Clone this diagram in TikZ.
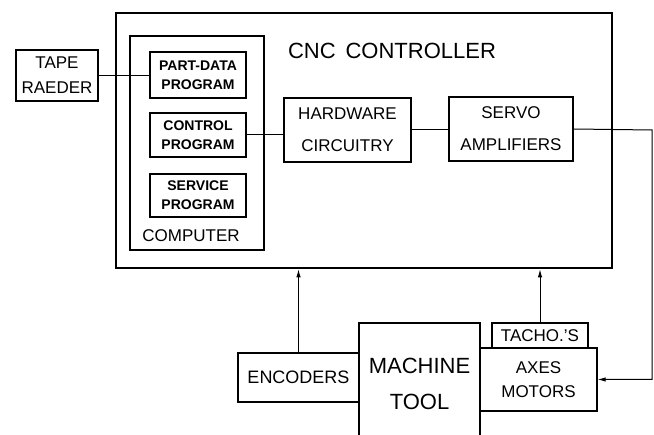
\documentclass[tikz,border=0pt]{standalone}
\usepackage{fontspec}
\setmainfont{Liberation Sans}
\usepackage{tikz}
\usetikzlibrary{arrows.meta}

\begin{document}
\begin{tikzpicture}[x=1pt, y=-1pt,
        blk/.style={draw, line width=1.2pt, inner sep=0pt, align=center,
                    font=\fontsize{17}{25}\selectfont},
        prog/.style={draw, line width=1.2pt, inner sep=0pt, align=center,
                    minimum width=96pt, font=\bfseries\fontsize{14}{19}\selectfont},
        link/.style={line width=1pt},
        feed/.style={line width=1pt, -{Latex[length=8pt,width=4.5pt]}}]
    \clip (0,0) rectangle (654,435);

    % controller frame
    \node[draw, line width=2.6pt, minimum width=496pt, minimum height=255pt] (cnc) at (364,140.5) {};
    \node[font=\fontsize{22}{26}\selectfont] (cnclabel) at (392,51) {CNC\hspace{0.45em}CONTROLLER};

    % computer and its programs
    \node[draw, line width=1.2pt, minimum width=134pt, minimum height=214pt] (computer) at (197,143) {};
    \node[font=\fontsize{17}{20}\selectfont] (complabel) at (191,236) {COMPUTER};
    \node[prog, minimum height=46pt] (partdata) at (198,75) {PART-DATA\\PROGRAM};
    \node[prog, minimum height=44pt] (control) at (198,135) {CONTROL\\PROGRAM};
    \node[prog, minimum height=43pt] (service) at (198,195.5) {SERVICE\\PROGRAM};

    \node[blk, minimum width=127pt, minimum height=64pt, font=\fontsize{17}{32}\selectfont] (hardware) at (347.5,130) {HARDWARE\\CIRCUITRY};
    \node[blk, minimum width=124pt, minimum height=64pt, font=\fontsize{17}{32}\selectfont] (servo) at (511,129) {SERVO\\AMPLIFIERS};

    \node[blk, minimum width=82pt, minimum height=51pt] (tape) at (57,75.5) {TAPE\\RAEDER};

    % machine side
    \node[blk, minimum width=121pt, minimum height=122pt, font=\fontsize{22}{36}\selectfont] (machine) at (419.5,384) {MACHINE\\TOOL};
    \node[blk, minimum width=121pt, minimum height=49pt, font=\fontsize{18}{22}\selectfont] (encoders) at (298.5,377.5) {ENCODERS};
    \node[blk, minimum width=96pt, minimum height=25pt] (tachos) at (540,335.5) {TACHO.'S};
    \node[blk, minimum width=117pt, minimum height=63pt, font=\fontsize{17}{24}\selectfont] (axes) at (538.5,379.5) {AXES\\MOTORS};

    \coordinate (turn) at (652,130);

    \draw[link] (tape.east) -- (tape.east -| partdata.west);
    \draw[link] (control.east) -- (control.east -| hardware.west);
    \draw[link] (hardware.east) -- (hardware.east -| servo.west);
    \draw[feed] (servo.east) -- (turn) |- (axes.east);
    \draw[feed] (encoders.north) -- (encoders.north |- cnc.south);
    \draw[feed] (tachos.north) -- (tachos.north |- cnc.south);
\end{tikzpicture}
\end{document}
